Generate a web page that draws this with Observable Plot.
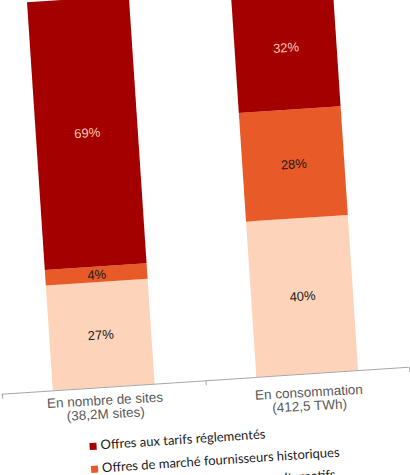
<!DOCTYPE html>
<html>
<head>
<meta charset="utf-8">
<script src="https://cdn.jsdelivr.net/npm/d3@7"></script>
<script src="https://cdn.jsdelivr.net/npm/@observablehq/plot@0.6"></script>
<style>
  html, body { margin: 0; padding: 0; background: #fff; overflow: hidden; width: 410px; height: 475px; }
  #wrap { position: absolute; left: -20px; top: -20px; width: 450px; height: 540px;
          transform: rotate(-3.8deg); transform-origin: 225px 257.5px; }
  #legend { position: absolute; left: 96px; top: 446px; font-family: Lato, "Open Sans", sans-serif;
            font-size: 13px; color: #1a1a1a; }
  .item { height: 22.6px; line-height: 22.6px; white-space: nowrap; }
  .sw { display: inline-block; width: 7px; height: 7px; margin-right: 4px; vertical-align: 0px; }
</style>
</head>
<body>
<div id="wrap"><div id="chart"></div><div id="legend"></div></div>
<script>
const categories = ["En nombre de sites\n(38,2M sites)", "En consommation\n(412,5 TWh)"];
// stacking order: bottom to top
const series = [
  "Offres de marché fournisseurs alternatifs",
  "Offres de marché fournisseurs historiques",
  "Offres aux tarifs réglementés"
];
const sitesValues = [27, 4, 69];
const consoValues = [40, 28, 32];
const barColors = ["#FDD3BA", "#E85A28", "#A50000"];
const labelColors = ["#1a1a1a", "#1a1a1a", "#F7C9AE"];
const legendOrder = [2, 1, 0];

const valuesByCat = [sitesValues, consoValues];
const rows = [];
categories.forEach((c, ci) => {
  series.forEach((s, si) => {
    rows.push({cat: c, series: s, value: valuesByCat[ci][si] / 100,
               label: valuesByCat[ci][si] + "%", fill: barColors[si], labelFill: labelColors[si]});
  });
});

const W = 450, mL = 11.5, mR = 30.5;
const halfStep = (W - mL - mR) / categories.length / 2;

const catLabel = (cat, dy) => Plot.text([cat], {
  x: d => d, y: () => 0, text: d => d, dy, rotate: 0.6, lineAnchor: "top", lineHeight: 1.02,
  fill: "#595959", fontSize: 13.5
});

const chart = Plot.plot({
  width: W, height: 450,
  marginTop: 11, marginBottom: 50, marginLeft: mL, marginRight: mR,
  x: {domain: categories, paddingInner: 0.5, paddingOuter: 0.25, axis: null},
  y: {domain: [0, 1], axis: null},
  color: {type: "identity"},
  style: {fontFamily: "'Liberation Sans', Arial, sans-serif", fontSize: "13px", background: "transparent", overflow: "visible"},
  marks: [
    Plot.barY(rows, Plot.stackY({x: "cat", y: "value", z: "series", fill: "fill"})),
    Plot.ruleY([0], {stroke: "#A6A6A6", strokeWidth: 1}),
    Plot.ruleX(categories, {x: d => d, y1: () => 0, y2: () => 0, insetBottom: -5, dx: -halfStep, stroke: "#A6A6A6"}),
    Plot.ruleX([categories[categories.length - 1]], {x: d => d, y1: () => 0, y2: () => 0, insetBottom: -5, dx: halfStep, stroke: "#A6A6A6"}),
    Plot.text(rows, Plot.stackY({x: "cat", y: "value", z: "series", text: "label", fill: "labelFill", fontSize: 13})),
    catLabel(categories[0], 7.5),
    catLabel(categories[1], 13)
  ]
});
document.getElementById("chart").appendChild(chart);

const legend = document.getElementById("legend");
legendOrder.forEach(i => {
  const div = document.createElement("div");
  div.className = "item";
  const sw = document.createElement("span");
  sw.className = "sw";
  sw.style.background = barColors[i];
  div.appendChild(sw);
  div.appendChild(document.createTextNode(series[i]));
  legend.appendChild(div);
});
</script>
</body>
</html>
